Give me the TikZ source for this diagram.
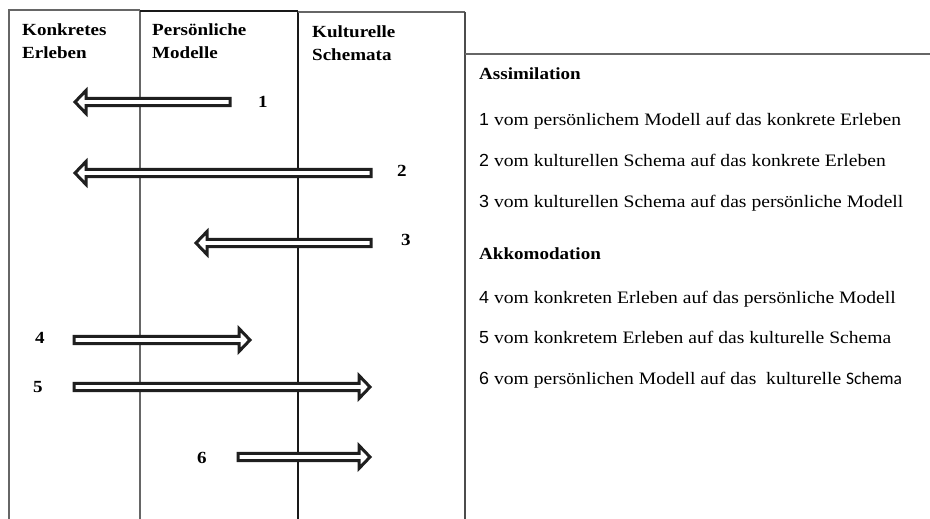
\documentclass[tikz,border=0pt]{standalone}
\usepackage{fontspec}
\setmainfont{Liberation Serif}[FakeStretch=1.12]
\newfontfamily\digitfont{Liberation Sans}[FakeStretch=1.02]
\newfontfamily\calfont{Carlito}
\newcommand{\hollowarrow}[4]{% name, tail x, tip x, y
  \pgfmathsetmacro\dd{(#3>#2)?1:-1}
  \pgfmathsetmacro\hb{#3-\dd*11}
  \draw[arrowline] (#2,#4-3.6) coordinate (#1-tail) -- (\hb,#4-3.6) -- (\hb,#4-11.5) -- (#3,#4) coordinate (#1-tip) -- (\hb,#4+11.5) -- (\hb,#4+3.6) -- (#2,#4+3.6) -- cycle;
}
\begin{document}
\begin{tikzpicture}[x=1pt,y=-1pt,
  arrowline/.style={line width=3pt, line join=miter, draw=black!88, fill=white},
  grayline/.style={line width=1.3pt, draw=black!60},
  darkline/.style={line width=1.8pt, draw=black!90},
  head/.style={font=\fontsize{17}{20}\selectfont\bfseries, anchor=base west, inner sep=0pt, align=left},
  num/.style={font=\fontsize{17}{20}\selectfont\bfseries, inner sep=0pt},
  txt/.style={font=\fontsize{17.5}{20}\selectfont, anchor=base west, inner sep=0pt}]
\useasboundingbox (0,0) rectangle (930,519);
% columns
\draw[grayline] (9,519) -- (9,10) -- (140,10);
\draw[grayline] (140,10) -- (140,519);
\draw[darkline] (140,11) -- (298,11);
\draw[darkline] (298,11) -- (298,519);
\draw[grayline] (298,12) -- (465,12);
\draw[line width=2pt, draw=black!70] (465,12) -- (465,519);
\draw[grayline] (465,54) -- (930,54);
% headers
\node[head] (h1a) at (22,36) {Konkretes};
\node[head] (h1b) at (22,59) {Erleben};
\node[head] (h2a) at (152,36) {Persönliche};
\node[head] (h2b) at (152,59) {Modelle};
\node[head] (h3a) at (312,38) {Kulturelle};
\node[head] (h3b) at (312,61) {Schemata};
% arrows
\hollowarrow{a1}{230}{75}{102}
\hollowarrow{a2}{371}{75}{173}
\hollowarrow{a3}{371}{196}{243}
\hollowarrow{a4}{74}{250}{340}
\hollowarrow{a5}{74}{370}{387}
\hollowarrow{a6}{238}{370}{457}
% numbers
\node[num] (n1) at (263,102) {1};
\node[num] (n2) at (402,171) {2};
\node[num] (n3) at (406,240) {3};
\node[num] (n4) at (40,338) {4};
\node[num] (n5) at (38,387) {5};
\node[num] (n6) at (202,458) {6};
% legend
\node[txt, font=\fontsize{17}{20}\selectfont\bfseries] (ass) at (479,80) {Assimilation};
\node[txt] (l1) at (479,125) {{\digitfont 1} vom persönlichem Modell auf das konkrete Erleben};
\node[txt] (l2) at (479,166) {{\digitfont 2} vom kulturellen Schema auf das konkrete Erleben};
\node[txt] (l3) at (479,207) {{\digitfont 3} vom kulturellen Schema auf das persönliche Modell};
\node[txt, font=\fontsize{17}{20}\selectfont\bfseries] (akk) at (479,259) {Akkomodation};
\node[txt] (l4) at (479,303) {{\digitfont 4} vom konkreten Erleben auf das persönliche Modell};
\node[txt] (l5) at (479,343) {{\digitfont 5} vom konkretem Erleben auf das kulturelle Schema};
\node[txt] (l6) at (479,384) {{\digitfont 6} vom persönlichen Modell auf das\ \ kulturelle {\calfont Schema}};
\end{tikzpicture}
\end{document}
